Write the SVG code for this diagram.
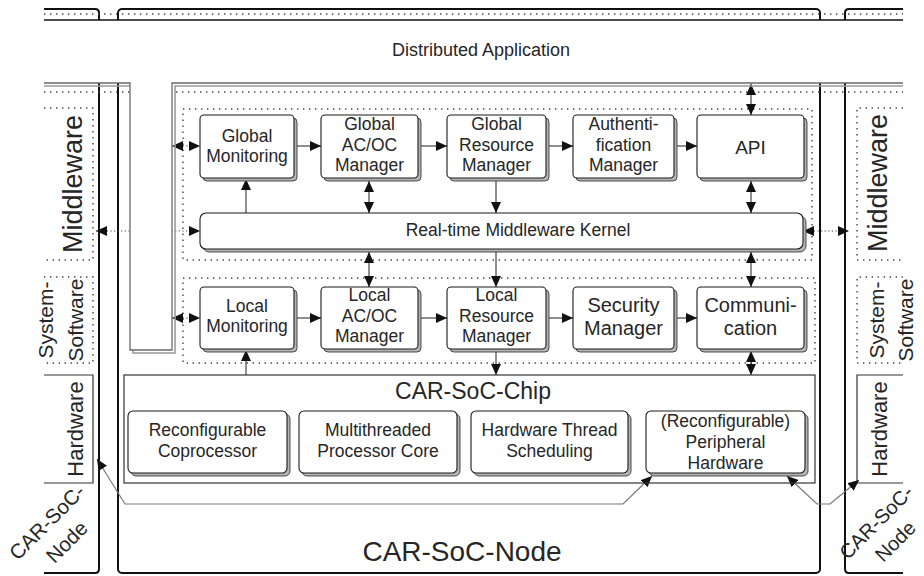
<svg xmlns="http://www.w3.org/2000/svg" width="924" height="576" viewBox="0 0 924 576">
  <defs>
    <style>
      .txt { font-family: "Liberation Sans", Arial, sans-serif; fill: #262626; text-anchor: middle; }
      .lbl { font-size: 17.5px; }
      .box { fill: #fff; stroke: #1a1a1a; stroke-width: 1.1; }
      .sh { fill: #b4b4b4; stroke: #3c3c3c; stroke-width: 0.9; }
      .edge { fill: none; stroke: #111; stroke-width: 2; }
      .thin { fill: none; stroke: #111; stroke-width: 1.4; }
      .dot { fill: none; stroke: #444; stroke-width: 1.4; stroke-dasharray: 1.4 4.6; }
      .solid { fill: none; stroke: #333; stroke-width: 1.2; }
      .conn { fill: none; stroke: #333; stroke-width: 1.1; }
      .dconn { fill: none; stroke: #444; stroke-width: 1.1; stroke-dasharray: 1.2 2.4; }
      .gconn { fill: none; stroke: #777; stroke-width: 1.2; }
    </style>
    <marker id="ah" viewBox="0 0 11 10" refX="11" refY="5" markerWidth="11" markerHeight="10" markerUnits="userSpaceOnUse" orient="auto-start-reverse">
      <path d="M0,0 L11,5 L0,10 z" fill="#111"/>
    </marker>
  </defs>

  <rect width="924" height="576" fill="#fff"/>

  <!-- node outlines (left neighbour, central node, right neighbour) -->
  <g id="node-left">
    <path class="edge" d="M44,9 H95 Q99,9 99,13 V569 Q99,573 95,573 H44"/>
  </g>
  <g id="node-center">
    <rect class="edge" x="118" y="9" width="702" height="564" rx="4"/>
  </g>
  <g id="node-right">
    <path class="edge" d="M903,9 H849 Q845,9 845,13 V569 Q845,573 849,573 H903"/>
  </g>

  <!-- application band over the node tops -->
  <rect x="44" y="20" width="859" height="63" fill="#fff"/>
  <line class="dot" x1="44" y1="14" x2="903" y2="14"/>
  <line class="thin" x1="44" y1="20" x2="903" y2="20"/>
  <line class="dot" x1="44" y1="92" x2="903" y2="92"/>

  <!-- layer boxes on the neighbour nodes -->
  <g id="layers-left">
    <path class="dot" d="M44,108 H93 V260 H44"/>
    <path class="dot" d="M44,277 H93 V363 H44"/>
    <path class="solid" d="M44,375 H93 V483 H44"/>
    <text class="txt" font-size="27" transform="translate(82,184) rotate(-90)">Middleware</text>
    <g transform="translate(0,320) rotate(-90)">
      <text class="txt" font-size="21" x="0" y="53">System-</text>
      <text class="txt" font-size="21" x="0" y="83">Software</text>
    </g>
    <text class="txt" font-size="22" transform="translate(83,429) rotate(-90)">Hardware</text>
    <g transform="translate(57,532) rotate(-45)">
      <text class="txt" font-size="20.5" x="0" y="-7">CAR-SoC-</text>
      <text class="txt" font-size="20.5" x="0" y="21">Node</text>
    </g>
  </g>
  <g id="layers-right">
    <path class="dot" d="M903,108 H857 V260 H903"/>
    <path class="dot" d="M903,277 H857 V363 H903"/>
    <path class="solid" d="M903,375 H857 V483 H903"/>
    <text class="txt" font-size="27" transform="translate(887,183) rotate(-90)">Middleware</text>
    <g transform="translate(0,320) rotate(-90)">
      <text class="txt" font-size="21" x="0" y="884">System-</text>
      <text class="txt" font-size="21" x="0" y="913">Software</text>
    </g>
    <text class="txt" font-size="22" transform="translate(887,429) rotate(-90)">Hardware</text>
    <g transform="translate(886,532) rotate(-45)">
      <text class="txt" font-size="20" x="0" y="-7">CAR-SoC-</text>
      <text class="txt" font-size="20" x="0" y="20">Node</text>
    </g>
  </g>

  <!-- layer frames inside the central node -->
  <rect class="dot" x="183" y="109" width="629" height="151"/>
  <rect class="dot" x="183" y="278" width="632" height="85"/>

  <!-- connectors -->
  <g id="connectors">
    <!-- global row -->
    <path class="conn" d="M297,146 H321" marker-end="url(#ah)"/>
    <path class="conn" d="M421,146 H447" marker-end="url(#ah)"/>
    <path class="conn" d="M549,146 H573" marker-end="url(#ah)"/>
    <path class="conn" d="M677,146 H697" marker-end="url(#ah)"/>
    <path class="dconn" d="M172,146 H200" marker-start="url(#ah)" marker-end="url(#ah)"/>
    <!-- application to API -->
    <path class="conn" d="M751,84 V115" marker-start="url(#ah)" marker-end="url(#ah)"/>
    <!-- global row to kernel -->
    <path class="conn" d="M246,213 V179" marker-end="url(#ah)"/>
    <path class="conn" d="M369,181 V213" marker-start="url(#ah)" marker-end="url(#ah)"/>
    <path class="conn" d="M496,178 V213" marker-end="url(#ah)"/>
    <path class="conn" d="M751,181 V213" marker-start="url(#ah)" marker-end="url(#ah)"/>
    <!-- kernel to neighbours -->
    <path class="dconn" d="M96,231 H200" marker-start="url(#ah)" marker-end="url(#ah)"/>
    <path class="dconn" d="M803,231 H849" marker-start="url(#ah)" marker-end="url(#ah)"/>
    <!-- kernel to local row -->
    <path class="conn" d="M369,252 V287" marker-start="url(#ah)" marker-end="url(#ah)"/>
    <path class="conn" d="M496,252 V287" marker-end="url(#ah)"/>
    <path class="conn" d="M751,252 V287" marker-start="url(#ah)" marker-end="url(#ah)"/>
    <!-- local row -->
    <path class="conn" d="M297,318 H321" marker-end="url(#ah)"/>
    <path class="conn" d="M421,318 H447" marker-end="url(#ah)"/>
    <path class="conn" d="M549,318 H573" marker-end="url(#ah)"/>
    <path class="conn" d="M677,318 H697" marker-end="url(#ah)"/>
    <path class="dconn" d="M172,318 H200" marker-start="url(#ah)" marker-end="url(#ah)"/>
    <!-- local row to chip -->
    <path class="conn" d="M246,375 V350" marker-end="url(#ah)"/>
    <path class="conn" d="M496,349 V375" marker-end="url(#ah)"/>
    <path class="conn" d="M751,351 V375" marker-start="url(#ah)" marker-end="url(#ah)"/>
    <!-- peripheral hardware links -->
    <path class="gconn" d="M97,459 L125,504 H623 L652,476" marker-start="url(#ah)" marker-end="url(#ah)"/>
    <path class="gconn" d="M787,476 L817,504 H830 L859,480" marker-start="url(#ah)" marker-end="url(#ah)"/>
  </g>

  <!-- distributed application: band with a leg into the central node -->
  <g id="distributed-application">
    <path d="M44,86 H133 V353 H175 V86 H903" fill="none" stroke="#9a9a9a" stroke-width="1.6"/>
    <rect x="130" y="83" width="42" height="267" fill="#fff"/>
    <path d="M44,83 H130 V350 H172 V83 H903" fill="none" stroke="#6a6a6a" stroke-width="1.3"/>
    <text class="txt" font-size="18" x="481" y="56">Distributed Application</text>
  </g>

  <!-- middleware layer -->
  <g id="global-monitoring">
    <rect class="sh" x="203" y="118" width="94" height="63" rx="4"/>
    <rect class="box" x="200" y="115" width="94" height="63" rx="4"/>
    <text class="txt lbl"><tspan x="247" y="142">Global</tspan><tspan x="247" y="162">Monitoring</tspan></text>
  </g>
  <g id="global-acoc-manager">
    <rect class="sh" x="324" y="118" width="97" height="63" rx="4"/>
    <rect class="box" x="321" y="115" width="97" height="63" rx="4"/>
    <text class="txt lbl"><tspan x="369.5" y="130">Global</tspan><tspan x="369.5" y="151">AC/OC</tspan><tspan x="369.5" y="171">Manager</tspan></text>
  </g>
  <g id="global-resource-manager">
    <rect class="sh" x="450" y="118" width="99" height="63" rx="4"/>
    <rect class="box" x="447" y="115" width="99" height="63" rx="4"/>
    <text class="txt lbl"><tspan x="496.5" y="130">Global</tspan><tspan x="496.5" y="151">Resource</tspan><tspan x="496.5" y="171">Manager</tspan></text>
  </g>
  <g id="authentification-manager">
    <rect class="sh" x="576" y="118" width="101" height="63" rx="4"/>
    <rect class="box" x="573" y="115" width="101" height="63" rx="4"/>
    <text class="txt lbl"><tspan x="623.5" y="130">Authenti-</tspan><tspan x="623.5" y="151">fication</tspan><tspan x="623.5" y="171">Manager</tspan></text>
  </g>
  <g id="api">
    <rect class="sh" x="700" y="118" width="107" height="63" rx="4"/>
    <rect class="box" x="697" y="115" width="107" height="63" rx="4"/>
    <text class="txt" font-size="19" x="750.5" y="154">API</text>
  </g>
  <g id="middleware-kernel">
    <rect class="sh" x="203" y="216" width="603" height="36" rx="6"/>
    <rect class="box" x="200" y="213" width="603" height="36" rx="6"/>
    <text class="txt lbl" x="518" y="236">Real-time Middleware Kernel</text>
  </g>

  <!-- system software layer -->
  <g id="local-monitoring">
    <rect class="sh" x="203" y="290" width="94" height="62" rx="4"/>
    <rect class="box" x="200" y="287" width="94" height="62" rx="4"/>
    <text class="txt lbl"><tspan x="247" y="312">Local</tspan><tspan x="247" y="332">Monitoring</tspan></text>
  </g>
  <g id="local-acoc-manager">
    <rect class="sh" x="324" y="290" width="97" height="62" rx="4"/>
    <rect class="box" x="321" y="287" width="97" height="62" rx="4"/>
    <text class="txt lbl"><tspan x="369.5" y="301">Local</tspan><tspan x="369.5" y="322">AC/OC</tspan><tspan x="369.5" y="342">Manager</tspan></text>
  </g>
  <g id="local-resource-manager">
    <rect class="sh" x="450" y="290" width="99" height="62" rx="4"/>
    <rect class="box" x="447" y="287" width="99" height="62" rx="4"/>
    <text class="txt lbl"><tspan x="496.5" y="301">Local</tspan><tspan x="496.5" y="322">Resource</tspan><tspan x="496.5" y="342">Manager</tspan></text>
  </g>
  <g id="security-manager">
    <rect class="sh" x="576" y="290" width="101" height="62" rx="4"/>
    <rect class="box" x="573" y="287" width="101" height="62" rx="4"/>
    <text class="txt" font-size="20"><tspan x="623.5" y="312">Security</tspan><tspan x="623.5" y="335">Manager</tspan></text>
  </g>
  <g id="communication">
    <rect class="sh" x="700" y="290" width="107" height="62" rx="4"/>
    <rect class="box" x="697" y="287" width="107" height="62" rx="4"/>
    <text class="txt" font-size="20"><tspan x="750.5" y="312">Communi-</tspan><tspan x="750.5" y="335">cation</tspan></text>
  </g>

  <!-- hardware layer -->
  <g id="car-soc-chip">
    <rect x="124" y="375" width="691" height="108" fill="none" stroke="#333" stroke-width="1.2"/>
    <text class="txt" font-size="23" x="473" y="399">CAR-SoC-Chip</text>
  </g>
  <g id="reconfigurable-coprocessor">
    <rect class="sh" x="131" y="414" width="159" height="62" rx="5"/>
    <rect class="box" x="128" y="411" width="159" height="62" rx="5"/>
    <text class="txt lbl"><tspan x="207.5" y="436">Reconfigurable</tspan><tspan x="207.5" y="457">Coprocessor</tspan></text>
  </g>
  <g id="multithreaded-core">
    <rect class="sh" x="302" y="414" width="158" height="62" rx="5"/>
    <rect class="box" x="299" y="411" width="158" height="62" rx="5"/>
    <text class="txt lbl"><tspan x="378" y="436">Multithreaded</tspan><tspan x="378" y="457">Processor Core</tspan></text>
  </g>
  <g id="hw-thread-scheduling">
    <rect class="sh" x="474" y="414" width="157" height="62" rx="5"/>
    <rect class="box" x="471" y="411" width="157" height="62" rx="5"/>
    <text class="txt lbl"><tspan x="549.5" y="436">Hardware Thread</tspan><tspan x="549.5" y="457">Scheduling</tspan></text>
  </g>
  <g id="peripheral-hardware">
    <rect class="sh" x="649" y="414" width="159" height="62" rx="5"/>
    <rect class="box" x="646" y="411" width="159" height="62" rx="5"/>
    <text class="txt lbl"><tspan x="725.5" y="427">(Reconfigurable)</tspan><tspan x="725.5" y="448">Peripheral</tspan><tspan x="725.5" y="469">Hardware</tspan></text>
  </g>

  <text class="txt" font-size="28" x="462" y="561">CAR-SoC-Node</text>
</svg>
